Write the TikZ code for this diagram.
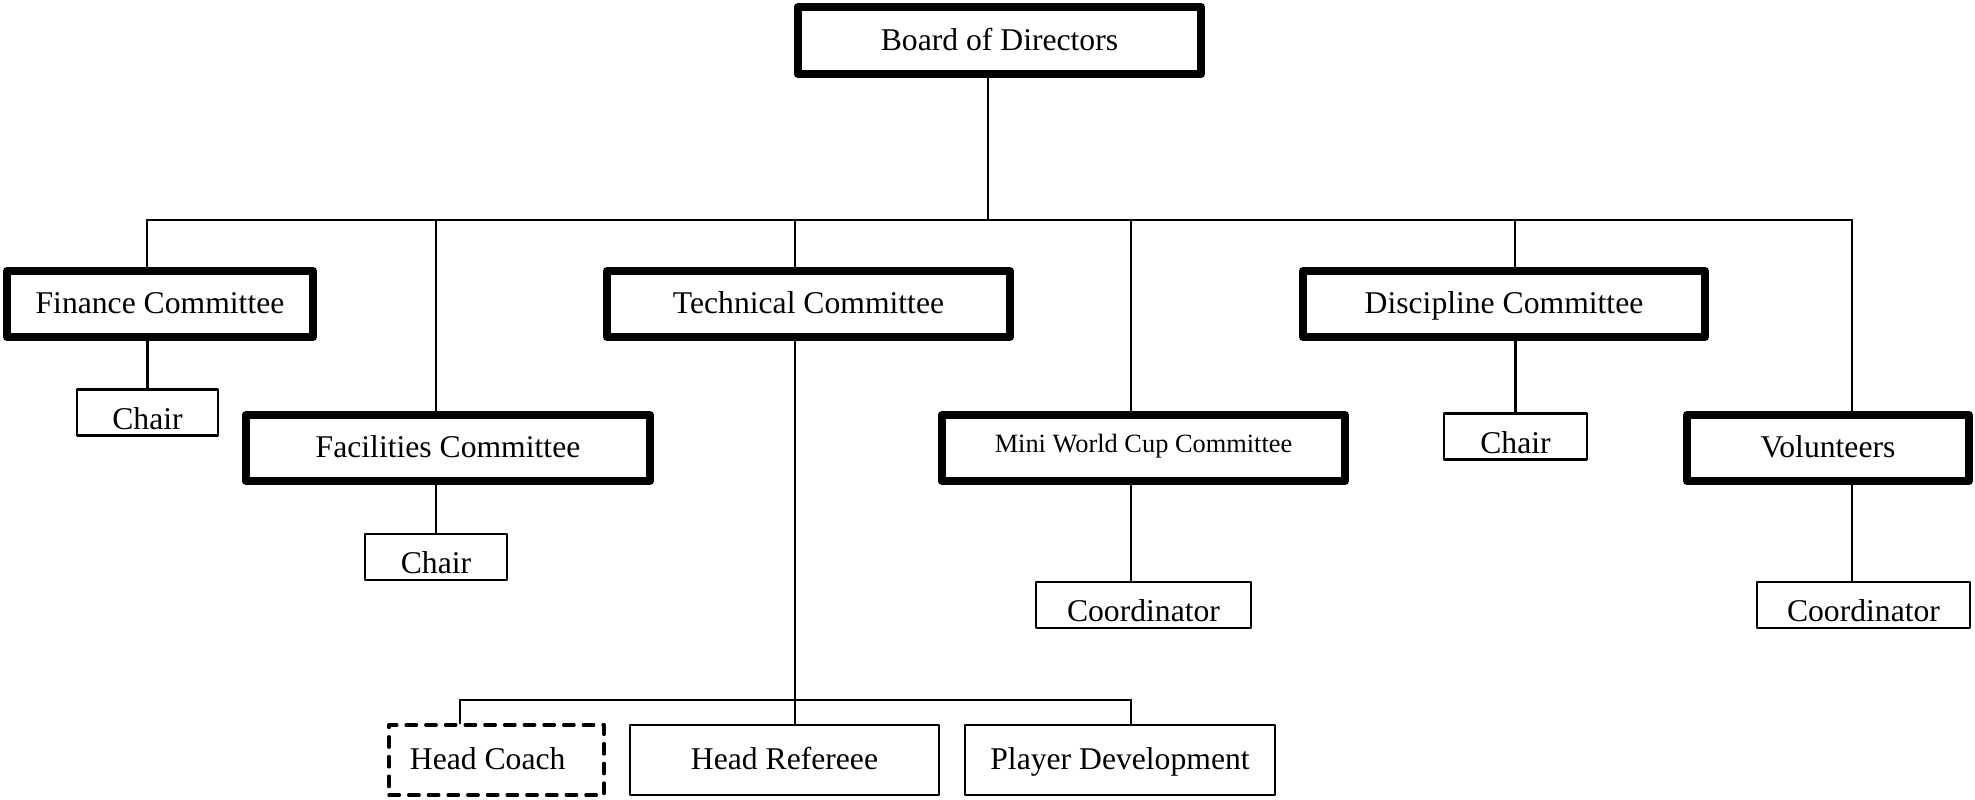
\documentclass[tikz,border=0pt]{standalone}
\usepackage{fontspec}
\setmainfont{Liberation Serif}
\usetikzlibrary{calc}

\begin{document}
\begin{tikzpicture}[x=0.01cm,y=-0.01cm,line cap=round,line join=round,
    committee/.style={draw,line width=0.08cm,inner sep=0pt,minimum width=#1,minimum height=0.66cm,text height=1.55ex,text depth=0.35ex,font=\fontsize{9}{11}\selectfont},
    member/.style={draw,line width=0.6pt,inner sep=0pt,minimum width=#1,minimum height=0.46cm,text height=1.55ex,text depth=0.35ex,font=\fontsize{9}{11}\selectfont},
    staff/.style={member=#1,minimum height=0.7cm},
    link/.style={line width=0.6pt}]

    \useasboundingbox (0,0) rectangle (1975,800);

    % top
    \node[committee=4.03cm,minimum height=0.67cm] (board) at (999.5,40.5) {Board of Directors};

    % committees
    \node[committee=3.06cm] (fin) at (160,304) {Finance Committee};
    \node[committee=4.04cm] (fac) at (448,448) {Facilities Committee};
    \node[committee=4.03cm] (tech) at (808.5,304) {Technical Committee};
    \node[committee=4.03cm,font=\fontsize{7.5}{9}\selectfont] (mwc) at (1143.5,448) {\raisebox{1.5pt}{Mini World Cup Committee}};
    \node[committee=4.02cm] (disc) at (1504,304) {Discipline Committee};
    \node[committee=2.82cm] (vol) at (1828,448) {Volunteers};

    % chairs and coordinators
    \node[member=1.41cm] (finchair) at (147.5,412.5) {\raisebox{-2pt}{Chair}};
    \node[member=1.42cm] (facchair) at (436,557) {\raisebox{-2pt}{Chair}};
    \node[member=1.43cm] (discchair) at (1515.5,436.5) {\raisebox{-2pt}{Chair}};
    \node[member=2.15cm] (mwccoord) at (1143.5,605) {\raisebox{-2pt}{Coordinator}};
    \node[member=2.13cm] (volcoord) at (1863.5,605) {\raisebox{-2pt}{Coordinator}};

    % technical staff
    \node[staff=2.15cm,dash pattern=on 3pt off 2.6pt,line width=0.9pt] (coach) at (496.5,760) {\hspace*{-5pt}Head Coach};
    \node[staff=3.09cm] (ref) at (784.5,760) {Head Refereee};
    \node[staff=3.10cm] (dev) at (1120,760) {Player Development};

    % bus lines
    \coordinate (hub) at (988,220);
    \coordinate (d1) at (147,220);
    \coordinate (d2) at (436,220);
    \coordinate (d3) at (795,220);
    \coordinate (d4) at (1131,220);
    \coordinate (d5) at (1515,220);
    \coordinate (d6) at (1852,220);
    \coordinate (s1) at (460,700);
    \coordinate (s2) at (795,700);
    \coordinate (s3) at (1131,700);

    \draw[link] (board.south -| hub) -- (hub);
    \draw[link] (d1) -- (d6);
    \draw[link] (d1) -- (d1 |- fin.north);
    \draw[link] (d2) -- (d2 |- fac.north);
    \draw[link] (d3) -- (d3 |- tech.north);
    \draw[link] (d4) -- (d4 |- mwc.north);
    \draw[link] (d5) -- (d5 |- disc.north);
    \draw[link] (d6) -- (d6 |- vol.north);

    % down to chairs
    \draw[link] (fin.south -| finchair) -- (finchair.north);
    \draw[link] (fac.south -| facchair) -- (facchair.north);
    \draw[link] (disc.south -| discchair) -- (discchair.north);
    \draw[link] (d4 |- mwc.south) -- (d4 |- mwccoord.north);
    \draw[link] (d6 |- vol.south) -- (d6 |- volcoord.north);

    % technical staff
    \draw[link] (tech.south -| s2) -- (s2);
    \draw[link] (s1) -- (s3);
    \draw[link] (s1) -- (s1 |- coach.north);
    \draw[link] (s2) -- (s2 |- ref.north);
    \draw[link] (s3) -- (s3 |- dev.north);

\end{tikzpicture}
\end{document}
